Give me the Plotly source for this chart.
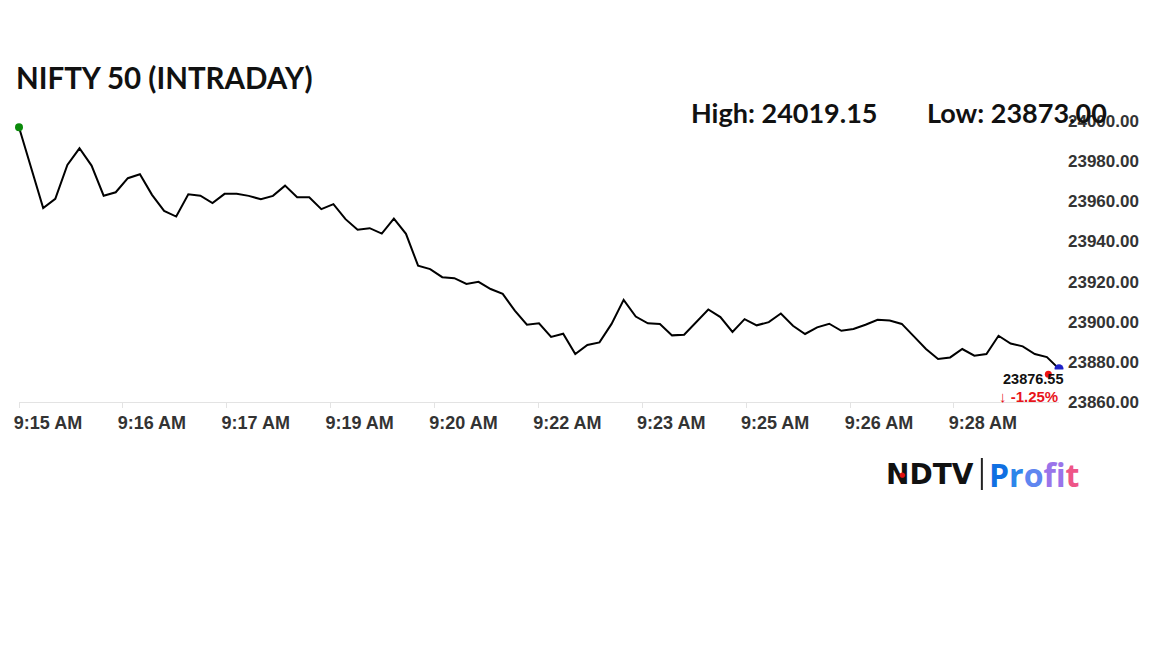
import plotly.graph_objects as go

# ---- data ----
point_index = [0] + list(range(2, 87))
nifty_values = [
    23996.9, 23956.6, 23961.2, 23978.1, 23986.4, 23977.8, 23962.8, 23964.5, 23971.5, 23973.5,
    23963.2, 23955.2, 23952.4, 23963.5, 23962.8, 23959.1, 23963.7, 23963.7, 23962.7, 23961.0,
    23962.7, 23967.8, 23962.0, 23962.0, 23956.1, 23958.6, 23951.1, 23945.8, 23946.6, 23943.9,
    23951.4, 23943.8, 23927.9, 23926.2, 23922.2, 23921.7, 23918.8, 23919.9, 23916.3, 23913.9,
    23905.5, 23898.5, 23899.2, 23892.4, 23894.0, 23883.9, 23888.4, 23889.7, 23898.9, 23910.9,
    23902.6, 23899.2, 23898.9, 23893.2, 23893.5, 23900.0, 23906.1, 23902.3, 23894.9, 23901.3,
    23898.2, 23899.8, 23904.1, 23898.0, 23893.9, 23897.2, 23899.0, 23895.5, 23896.4, 23898.5,
    23901.0, 23900.6, 23898.9, 23892.7, 23886.4, 23881.4, 23882.2, 23886.4, 23883.1, 23883.9,
    23893.0, 23889.1, 23887.7, 23883.9, 23882.4, 23876.55,
]
tick_labels = ["9:15 AM", "9:16 AM", "9:17 AM", "9:19 AM", "9:20 AM",
               "9:22 AM", "9:23 AM", "9:25 AM", "9:26 AM", "9:28 AM"]
y_ticks = [23860, 23880, 23900, 23920, 23940, 23960, 23980, 24000]
title_text = "NIFTY 50 (INTRADAY)"
high_text = "High: 24019.15"
low_text = "Low: 23873.00"
last_text = "23876.55"
change_text = "↓ -1.25%"

# ---- layout geometry (pixels, in screenshot coordinates) ----
PAGE_OFF = 8          # default page body margin
FW, FH = 1152 - PAGE_OFF, 648 - PAGE_OFF
L, R, T, B = 14, 1059, 121, 402
W, H = R - L, B - T
TICK_STEP = 8.59  # index units between labelled ticks


def px(x):
    return (x - L) / W


def py(y):
    return (B - y) / H


AXIS_FONT = "Liberation Sans, Arial, sans-serif"
HEAD_FONT = "Lato, sans-serif"

fig = go.Figure()
fig.add_trace(go.Scatter(
    x=point_index, y=nifty_values, mode="lines",
    line=dict(color="#000000", width=2),
    cliponaxis=False, hoverinfo="skip", showlegend=False,
))
fig.add_trace(go.Scatter(
    x=[point_index[0]], y=[nifty_values[0]], mode="markers",
    marker=dict(color="#0a8a0a", size=8), cliponaxis=False, showlegend=False,
))
fig.add_trace(go.Scatter(
    x=[point_index[-1]], y=[nifty_values[-1]], mode="markers",
    marker=dict(color="#1e22c8", size=9), cliponaxis=False, showlegend=False,
))

tickvals = [i * TICK_STEP for i in range(len(tick_labels))]

fig.update_layout(
    width=FW, height=FH,
    margin=dict(l=L - PAGE_OFF, r=FW - (R - PAGE_OFF), t=T - PAGE_OFF,
                b=FH - (B - PAGE_OFF), pad=0),
    paper_bgcolor="white", plot_bgcolor="white",
    xaxis=dict(
        range=[0, 86], showgrid=False, zeroline=False,
        showline=True, linecolor="#e3e3e3", linewidth=1,
        ticks="outside", ticklen=5, tickcolor="#e3e3e3",
        tickvals=tickvals, ticktext=tick_labels,
        ticklabelshift=29, ticklabelstandoff=-1,
        tickfont=dict(family=AXIS_FONT, size=18, color="#333333", weight="bold"),
    ),
    yaxis=dict(
        range=[23860, 24000], side="right", showgrid=False, zeroline=False,
        showline=False, ticks="", tickvals=y_ticks, tickformat=".2f",
        ticklabelstandoff=8,
        tickfont=dict(family=AXIS_FONT, size=17, color="#333333", weight="bold"),
    ),
)

shapes = [
    dict(type="rect", xref="paper", yref="paper", layer="above",
         x0=px(1000), x1=px(1066), y0=py(388), y1=py(369.5),
         fillcolor="white", line=dict(width=0)),
    dict(type="circle", xref="paper", yref="paper", layer="above",
         x0=px(1044.8), x1=px(1051.8), y0=py(377.8), y1=py(370.8),
         fillcolor="#ee1111", line=dict(width=0)),
    dict(type="line", xref="paper", yref="paper", layer="above",
         x0=px(981.5), x1=px(981.5), y0=py(490), y1=py(458),
         line=dict(color="#222222", width=2)),
]

annotations = [
    dict(text=f"<b>{title_text}</b>", x=px(9), y=py(77), xanchor="left", yanchor="middle",
         font=dict(family=HEAD_FONT, size=29.5, color="#111111")),
    dict(text=f"<b>{high_text}</b>", x=px(687), y=py(112), xanchor="left", yanchor="middle",
         font=dict(family=HEAD_FONT, size=27, color="#111111")),
    dict(text=f"<b>{low_text}</b>", x=px(924), y=py(112), xanchor="left", yanchor="middle",
         font=dict(family=HEAD_FONT, size=27, color="#111111")),
    dict(text=f"<b>{last_text}</b>", x=px(1033), y=py(379), xanchor="center", yanchor="middle",
         font=dict(family=AXIS_FONT, size=14.5, color="#111111")),
    dict(text=f"<b>{change_text}</b>", x=px(1028), y=py(396), xanchor="center", yanchor="middle",
         font=dict(family=AXIS_FONT, size=15, color="#e8141b")),
    dict(text="<b>NDTV</b>", x=px(883), y=py(474), xanchor="left", yanchor="middle",
         font=dict(family="DejaVu Sans, sans-serif", size=28, color="#111111")),
    dict(text="●", x=px(901), y=py(475), xanchor="center", yanchor="middle",
         font=dict(family="DejaVu Sans, sans-serif", size=7, color="#e01010")),
    dict(text=("<b><span style='color:#1070e2'>P</span><span style='color:#2d86ea'>r</span>"
               "<span style='color:#5f86f0'>o</span><span style='color:#9a74ea'>f</span>"
               "<span style='color:#cc62d2'>i</span><span style='color:#ee5588'>t</span></b>"),
         x=px(987), y=py(474), xanchor="left", yanchor="middle",
         font=dict(family="Open Sans, sans-serif", size=32, color="#1070e2")),
]
for a in annotations:
    a.update(xref="paper", yref="paper", showarrow=False)

fig.update_layout(shapes=shapes, annotations=annotations)
fig.write_html("out.html")
